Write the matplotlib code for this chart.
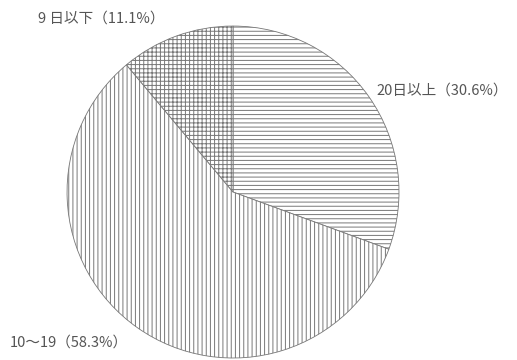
import matplotlib
matplotlib.use("Agg")
import matplotlib.pyplot as plt

plt.rcParams['font.family'] = ['Noto Sans CJK JP', 'DejaVu Sans']
plt.rcParams['hatch.linewidth'] = 0.7
plt.rcParams['hatch.color'] = '#8c8c8c'

# Share of respondents by number of days
categories = ["20日以上", "10～19", "9 日以下"]
shares = [30.6, 58.3, 11.1]
hatches = ["----", "||||", "++++"]

# Label anchor points (data units, pie radius = 1)
label_pos = [(0.867, 0.614), (-1.343, -0.910), (-1.175, 1.048)]

fig = plt.figure(figsize=(5.17, 3.60), dpi=100)
ax = fig.add_axes([0, 0, 1, 1])

wedges, _ = ax.pie(
    shares,
    startangle=90,
    counterclock=False,
    colors=["white"] * len(shares),
    wedgeprops=dict(edgecolor="#777777", linewidth=0.6),
)
for w, h in zip(wedges, hatches):
    w.set_hatch(h)

for cat, val, (x, y) in zip(categories, shares, label_pos):
    ax.text(x, y, f"{cat}（{val:.1f}%）", ha="left", va="center",
            fontsize=10.5, color="#555555")

ax.set_aspect("equal")
ax.set_xlim(-1.404, 1.711)
ax.set_ylim(-1.012, 1.157)
ax.axis("off")

fig.savefig("out.png", dpi=100, facecolor="white")
